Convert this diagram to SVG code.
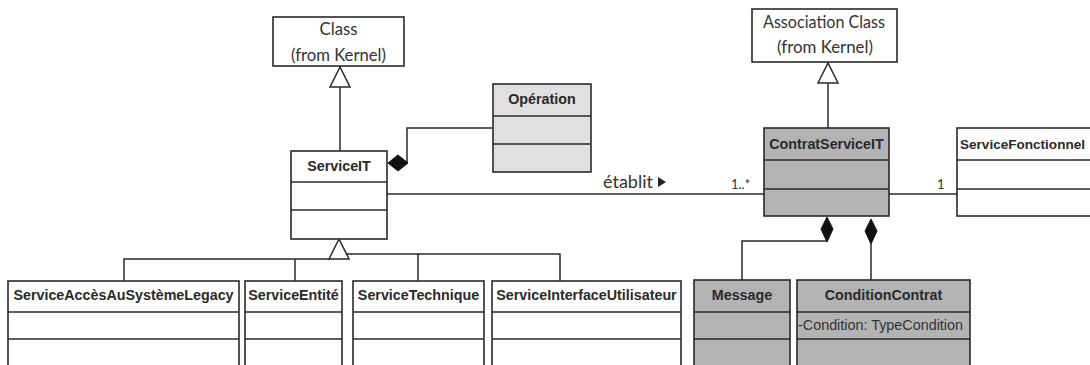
<svg xmlns="http://www.w3.org/2000/svg" width="1090" height="365" viewBox="0 0 1090 365">
<style>
.box{stroke:#2a2a2a;stroke-width:1.6;fill:#fff}
.gray{fill:#b3b3b3}
.light{fill:#e0e0e0}
.div{stroke:#2a2a2a;stroke-width:1.6}
.ln{stroke:#2a2a2a;stroke-width:1.5;fill:none}
.hd{font-family:"Liberation Sans",Arial,sans-serif;font-weight:bold;font-size:14.3px;fill:#2a2a2a;text-anchor:middle}
.kt{font-family:Lato,"Liberation Sans",sans-serif;font-size:17px;fill:#333;text-anchor:middle}
.at{font-family:"Liberation Sans",Arial,sans-serif;font-size:14px;fill:#333}
.ml{font-family:Lato,"Liberation Sans",sans-serif;font-size:13px;fill:#333}
.tri{fill:#fff;stroke:#2a2a2a;stroke-width:1.5}
.dia{fill:#111;stroke:#111;stroke-width:1}
</style>

<g id="connectors">
  <line class="ln" x1="340" y1="87" x2="340" y2="151"/>
  <polygon class="tri" points="340,67 330,87 350,87"/>
  <line class="ln" x1="828" y1="83" x2="828" y2="128"/>
  <polygon class="tri" points="828,63 818,83 838,83"/>
  <polyline class="ln" points="124,281 124,259 330,259"/>
  <line class="ln" x1="295" y1="259" x2="295" y2="281"/>
  <polyline class="ln" points="345,254 560,254 560,281"/>
  <line class="ln" x1="418" y1="254" x2="418" y2="281"/>
  <polygon class="tri" points="339,239 329,259 349,259"/>
  <polyline class="ln" points="493,128 407,128 407,163"/>
  <polygon class="dia" points="388,163 398,155 408,163 398,171"/>
  <line class="ln" x1="387" y1="194" x2="764" y2="194"/>
  <line class="ln" x1="889" y1="194" x2="957" y2="194"/>
  <text x="603" y="188" style="font-family:Lato,'Liberation Sans',sans-serif;font-size:17px;fill:#333" textLength="50" lengthAdjust="spacingAndGlyphs">établit</text>
  <polygon points="658,177 666,182 658,187" fill="#222"/>
  <text class="ml" x="731" y="189">1..*</text>
  <text class="ml" x="937" y="189">1</text>
  <polyline class="ln" points="742,280 742,241 827,241"/>
  <polygon class="dia" points="827,217 833,229 827,242 821,229"/>
  <line class="ln" x1="871" y1="244" x2="871" y2="280"/>
  <polygon class="dia" points="871,219 877,231 871,244 865,231"/>
</g>

<g id="class-kernel">
  <rect class="box" x="273" y="17" width="131" height="49"/>
  <text class="kt" x="338.5" y="35" textLength="38" lengthAdjust="spacingAndGlyphs">Class</text>
  <text class="kt" x="338.5" y="61" textLength="95" lengthAdjust="spacingAndGlyphs">(from Kernel)</text>
</g>

<g id="association-class-kernel">
  <rect class="box" x="752" y="9" width="145" height="53"/>
  <text class="kt" x="824" y="28" textLength="122" lengthAdjust="spacingAndGlyphs">Association Class</text>
  <text class="kt" x="825" y="53" textLength="96" lengthAdjust="spacingAndGlyphs">(from Kernel)</text>
</g>

<g id="operation">
  <rect class="box light" x="493" y="84" width="98" height="88"/>
  <line class="div" x1="493" y1="116" x2="591" y2="116"/>
  <line class="div" x1="493" y1="144" x2="591" y2="144"/>
  <text class="hd" x="542" y="104">Opération</text>
</g>

<g id="serviceit">
  <rect class="box" x="291" y="151" width="96" height="88"/>
  <line class="div" x1="291" y1="182" x2="387" y2="182"/>
  <line class="div" x1="291" y1="210" x2="387" y2="210"/>
  <text class="hd" x="339" y="171">ServiceIT</text>
</g>

<g id="contratserviceit">
  <rect class="box gray" x="764" y="128" width="125" height="88"/>
  <line class="div" x1="764" y1="160" x2="889" y2="160"/>
  <line class="div" x1="764" y1="189" x2="889" y2="189"/>
  <text class="hd" x="826.5" y="149">ContratServiceIT</text>
</g>

<g id="servicefonctionnel">
  <rect class="box" x="957" y="128" width="140" height="88"/>
  <line class="div" x1="957" y1="160" x2="1097" y2="160"/>
  <line class="div" x1="957" y1="189" x2="1097" y2="189"/>
  <text class="hd" x="960" y="149" style="text-anchor:start;font-size:13.5px" textLength="125" lengthAdjust="spacingAndGlyphs">ServiceFonctionnel</text>
</g>

<g id="serviceaccesausystemelegacy">
  <rect class="box" x="8" y="281" width="231" height="95"/>
  <line class="div" x1="8" y1="312" x2="239" y2="312"/>
  <line class="div" x1="8" y1="339" x2="239" y2="339"/>
  <text class="hd" x="123.5" y="300">ServiceAccèsAuSystèmeLegacy</text>
</g>

<g id="serviceentite">
  <rect class="box" x="245" y="281" width="97" height="95"/>
  <line class="div" x1="245" y1="312" x2="342" y2="312"/>
  <line class="div" x1="245" y1="339" x2="342" y2="339"/>
  <text class="hd" x="293.5" y="300">ServiceEntité</text>
</g>

<g id="servicetechnique">
  <rect class="box" x="353" y="281" width="131" height="95"/>
  <line class="div" x1="353" y1="312" x2="484" y2="312"/>
  <line class="div" x1="353" y1="339" x2="484" y2="339"/>
  <text class="hd" x="418.5" y="300">ServiceTechnique</text>
</g>

<g id="serviceinterfaceutilisateur">
  <rect class="box" x="492" y="281" width="189" height="95"/>
  <line class="div" x1="492" y1="312" x2="681" y2="312"/>
  <line class="div" x1="492" y1="339" x2="681" y2="339"/>
  <text class="hd" x="586.5" y="300">ServiceInterfaceUtilisateur</text>
</g>

<g id="message">
  <rect class="box gray" x="694" y="280" width="96" height="96"/>
  <line class="div" x1="694" y1="312" x2="790" y2="312"/>
  <line class="div" x1="694" y1="339" x2="790" y2="339"/>
  <text class="hd" x="742" y="300">Message</text>
</g>

<g id="conditioncontrat">
  <rect class="box gray" x="797" y="280" width="173" height="96"/>
  <line class="div" x1="797" y1="312" x2="970" y2="312"/>
  <line class="div" x1="797" y1="339" x2="970" y2="339"/>
  <text class="hd" x="883.5" y="300">ConditionContrat</text>
  <text class="at" x="798" y="330" textLength="165" lengthAdjust="spacingAndGlyphs">-Condition: TypeCondition</text>
</g>
</svg>
